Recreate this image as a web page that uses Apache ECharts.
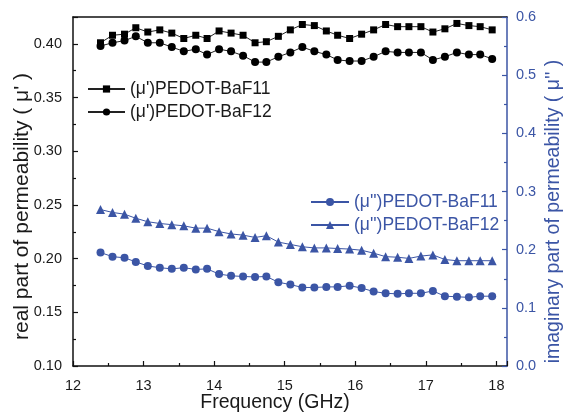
<!DOCTYPE html>
<html><head><meta charset="utf-8">
<script src="https://cdn.jsdelivr.net/npm/echarts@6/dist/echarts.min.js"></script>
<style>html,body{margin:0;padding:0;background:#fff}#c{width:564px;height:413px}</style>
</head><body><div id="c"></div>
<script>
const freq = [12.39,12.56,12.73,12.89,13.06,13.23,13.40,13.57,13.74,13.90,14.07,14.24,14.41,14.58,14.74,14.91,15.08,15.25,15.42,15.59,15.75,15.92,16.09,16.26,16.43,16.60,16.76,16.93,17.10,17.27,17.44,17.61,17.77,17.94];
const realBaF11 = [0.401,0.408,0.409,0.415,0.411,0.413,0.410,0.405,0.408,0.405,0.412,0.410,0.408,0.401,0.402,0.407,0.413,0.418,0.417,0.412,0.408,0.405,0.409,0.413,0.418,0.416,0.416,0.416,0.411,0.414,0.419,0.417,0.416,0.413];
const realBaF12 = [0.398,0.401,0.403,0.407,0.401,0.401,0.397,0.393,0.395,0.390,0.395,0.393,0.389,0.383,0.383,0.388,0.392,0.397,0.393,0.390,0.385,0.384,0.384,0.388,0.393,0.392,0.392,0.392,0.385,0.388,0.392,0.390,0.390,0.386];
const imagBaF11 = [0.195,0.188,0.186,0.179,0.172,0.169,0.167,0.169,0.166,0.167,0.158,0.155,0.154,0.153,0.154,0.144,0.140,0.135,0.135,0.136,0.136,0.138,0.134,0.128,0.125,0.124,0.125,0.125,0.129,0.120,0.119,0.118,0.120,0.120];
const imagBaF12 = [0.269,0.264,0.261,0.254,0.248,0.245,0.243,0.241,0.237,0.237,0.231,0.227,0.225,0.221,0.224,0.213,0.209,0.205,0.203,0.203,0.202,0.201,0.199,0.194,0.188,0.187,0.185,0.189,0.191,0.183,0.181,0.181,0.181,0.181];
const seriesNames = ["(\u03bc')PEDOT-BaF11", "(\u03bc')PEDOT-BaF12", "(\u03bc'')PEDOT-BaF11", "(\u03bc'')PEDOT-BaF12"];

const BLUE = '#3b55a5';
const FONT = 'Liberation Sans, Arial, sans-serif';
const pairs = ys => freq.map((x, i) => [x, ys[i]]);

const chart = echarts.init(document.getElementById('c'), null, {renderer: 'canvas'});
const tickCommon = {inside: true, length: 5};
const minorCommon = {show: true, splitNumber: 2, length: 3};
chart.setOption({
  animation: false,
  backgroundColor: '#fff',
  grid: {left: 73, right: 57, top: 17, bottom: 47, containLabel: false, outerBoundsMode: 'none'},
  xAxis: [{
    type: 'value', min: 12, max: 18.15, interval: 1,
    name: 'Frequency (GHz)', nameLocation: 'middle', nameGap: 27, nameMoveOverlap: false,
    nameTextStyle: {fontFamily: FONT, fontSize: 19.5, color: '#1a1a1a', padding: [0, 30, 0, 0]},
    axisLine: {lineStyle: {color: '#111', width: 1.5}},
    axisTick: Object.assign({}, tickCommon, {lineStyle: {color: '#111', width: 1.2}}),
    minorTick: Object.assign({}, minorCommon, {lineStyle: {color: '#111', width: 1.2}}),
    splitLine: {show: false},
    axisLabel: {fontFamily: FONT, fontSize: 14.5, color: '#1a1a1a', margin: 12, showMaxLabel: false,
      formatter: v => (Math.abs(v - Math.round(v)) < 1e-6 ? String(Math.round(v)) : '')}
  }, {
    type: 'value', min: 12, max: 18.15, position: 'top',
    axisLine: {show: true, lineStyle: {color: '#111', width: 1.5}},
    axisTick: {show: false}, axisLabel: {show: false}, splitLine: {show: false}
  }],
  yAxis: [{
    type: 'value', min: 0.1, max: 0.425, interval: 0.05, position: 'left',
    name: "real part of permeability ( \u03bc' )", nameLocation: 'middle', nameGap: 40, nameRotate: 90, nameMoveOverlap: false,
    nameTextStyle: {fontFamily: FONT, fontSize: 21, color: '#1a1a1a', padding: [0, 30, 0, 0]},
    axisLine: {show: true, lineStyle: {color: '#111', width: 1.5}},
    axisTick: Object.assign({}, tickCommon, {lineStyle: {color: '#111', width: 1.2}}),
    minorTick: Object.assign({}, minorCommon, {lineStyle: {color: '#111', width: 1.2}}),
    splitLine: {show: false},
    axisLabel: {fontFamily: FONT, fontSize: 14.5, color: '#1a1a1a', margin: 11, showMaxLabel: false,
      formatter: v => { const k = Math.round(v / 0.05); return Math.abs(v - k * 0.05) < 1e-6 ? v.toFixed(2) : ''; }}
  }, {
    type: 'value', min: 0, max: 0.6, interval: 0.1, position: 'right',
    name: "imaginary part of permeability ( \u03bc'' )", nameLocation: 'middle', nameGap: 37, nameRotate: 90, nameMoveOverlap: false,
    nameTextStyle: {fontFamily: FONT, fontSize: 19.5, color: BLUE, padding: [0, 40, 0, 0]},
    axisLine: {show: true, lineStyle: {color: BLUE, width: 1.5}},
    axisTick: Object.assign({}, tickCommon, {lineStyle: {color: BLUE, width: 1.2}}),
    minorTick: Object.assign({}, minorCommon, {lineStyle: {color: BLUE, width: 1.2}}),
    splitLine: {show: false},
    axisLabel: {fontFamily: FONT, fontSize: 14.5, color: BLUE, margin: 9,
      formatter: v => v.toFixed(1)}
  }],
  legend: [{
    data: [seriesNames[0], seriesNames[1]], orient: 'vertical', left: 87, top: 80, padding: 0,
    itemWidth: 37, itemHeight: 9, itemGap: 5,
    textStyle: {fontFamily: FONT, fontSize: 17.5, color: '#1a1a1a'}
  }, {
    data: [seriesNames[2], seriesNames[3]], orient: 'vertical', left: 310, top: 193, padding: 0,
    itemWidth: 38, itemHeight: 10, itemGap: 5,
    textStyle: {fontFamily: FONT, fontSize: 17.5, color: BLUE}
  }],
  series: [{
    name: seriesNames[0], type: 'line', xAxisIndex: 0, yAxisIndex: 0, data: pairs(realBaF11),
    symbol: 'rect', symbolSize: 7, showAllSymbol: true,
    itemStyle: {color: '#000'}, lineStyle: {color: '#222', width: 1}
  }, {
    name: seriesNames[1], type: 'line', xAxisIndex: 0, yAxisIndex: 0, data: pairs(realBaF12),
    symbol: 'circle', symbolSize: 8, showAllSymbol: true,
    itemStyle: {color: '#000'}, lineStyle: {color: '#222', width: 1}
  }, {
    name: seriesNames[2], type: 'line', xAxisIndex: 0, yAxisIndex: 1, data: pairs(imagBaF11),
    symbol: 'circle', symbolSize: 8, showAllSymbol: true,
    itemStyle: {color: BLUE}, lineStyle: {color: BLUE, width: 1}
  }, {
    name: seriesNames[3], type: 'line', xAxisIndex: 0, yAxisIndex: 1, data: pairs(imagBaF12),
    symbol: 'triangle', symbolSize: 9, showAllSymbol: true,
    itemStyle: {color: BLUE}, lineStyle: {color: BLUE, width: 1}
  }]
});
</script>
</body></html>
